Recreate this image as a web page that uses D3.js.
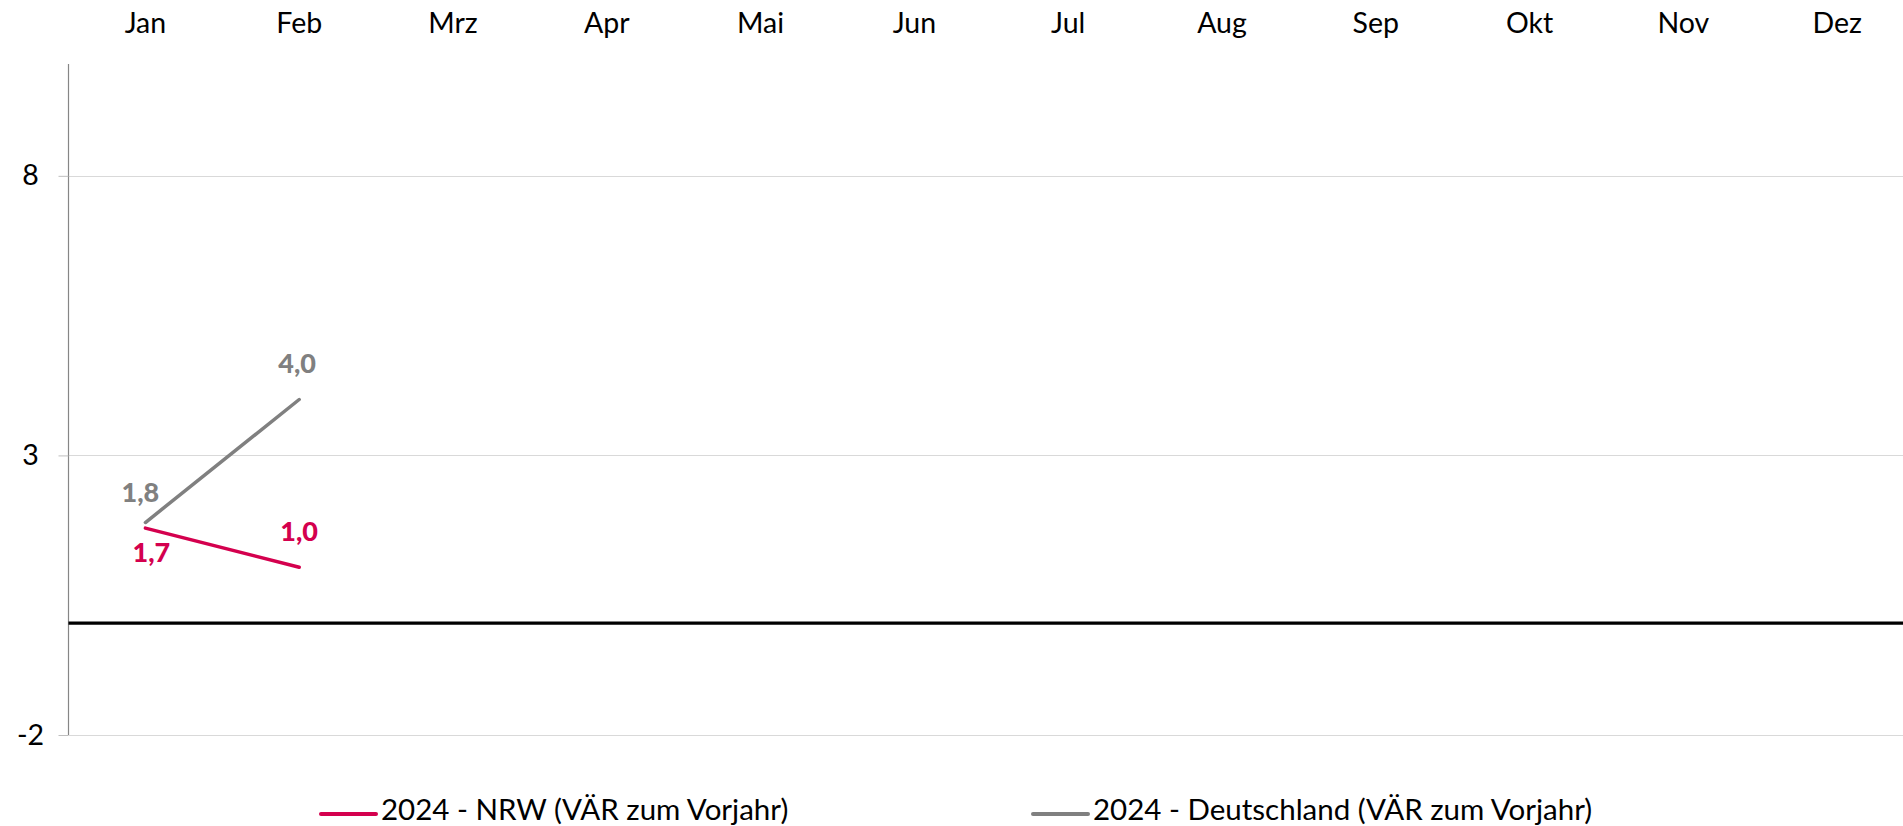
<!DOCTYPE html>
<html><head><meta charset="utf-8">
<script src="https://cdn.jsdelivr.net/npm/d3@7"></script>
<style>
html,body{margin:0;padding:0;background:#fff;overflow:hidden}
text{font-family:Lato, "Open Sans", sans-serif}
</style></head>
<body>
<svg id="chart" width="1903" height="826"></svg>
<script>
const months = ["Jan","Feb","Mrz","Apr","Mai","Jun","Jul","Aug","Sep","Okt","Nov","Dez"];
const nrwValues = [1.7, 1.0];
const deValues = [1.8, 4.0];
const nrwLabels = ["1,7","1,0"];
const deLabels = ["1,8","4,0"];
const yTicks = [-2, 3, 8];
const seriesNames = ["2024 - NRW (VÄR zum Vorjahr)", "2024 - Deutschland (VÄR zum Vorjahr)"];
const colors = {nrw:"#d4004e", de:"#808080"};

const svg = d3.select("#chart");
const left = 68.5, step = 153.8;
const x = d3.scaleBand().domain(months).range([left, left + step*12]).padding(0);
const y = d3.scaleLinear().domain([-2, 10]).range([735, 64]);
const cx = m => x(m) + x.bandwidth()/2;

// gridlines
svg.append("g").selectAll("line").data(yTicks).join("line")
  .attr("x1", left).attr("x2", 1903)
  .attr("y1", d => Math.round(y(d))+0.5).attr("y2", d => Math.round(y(d))+0.5)
  .attr("stroke", "#d9d9d9").attr("stroke-width", 1);

// y axis
const yAxis = d3.axisLeft(y).tickValues(yTicks).tickSize(10).tickPadding(20).tickFormat(d => String(d));
const gy = svg.append("g").attr("transform", `translate(${left},0)`).call(yAxis);
gy.select(".domain").attr("stroke", "#868686").attr("stroke-width", 1.2).attr("d", `M0,${y(10)}V${y(-2)}`);
gy.selectAll(".tick line").attr("stroke", "#bfbfbf");
gy.selectAll(".tick text").attr("font-size", 28.5).attr("fill", "#000").attr("font-family", "Lato").attr("text-anchor","middle").attr("dx", -8);

// top x axis labels
const xAxis = d3.axisTop(x).tickSize(0).tickPadding(0);
const gx = svg.append("g").attr("transform", "translate(0,33)").call(xAxis);
gx.select(".domain").remove();
gx.selectAll(".tick text").attr("font-size", 28.5).attr("fill", "#000").attr("font-family", "Lato");

// zero line
svg.append("line").attr("x1", left).attr("x2", 1903).attr("y1", y(0)).attr("y2", y(0))
  .attr("stroke", "#000").attr("stroke-width", 3.2);

const line = d3.line().x((d,i) => cx(months[i])).y(d => y(d));
svg.append("path").datum(deValues).attr("d", line).attr("fill","none")
  .attr("stroke", colors.de).attr("stroke-width", 3.5).attr("stroke-linecap","round");
svg.append("path").datum(nrwValues).attr("d", line).attr("fill","none")
  .attr("stroke", colors.nrw).attr("stroke-width", 3.5).attr("stroke-linecap","round");

// data labels
const deOff = [[-5,-31],[-2,-37]];
const nrwOff = [[6,23],[0,-37]];
svg.append("g").selectAll("text").data(deValues).join("text")
  .attr("x", (d,i) => cx(months[i]) + deOff[i][0]).attr("y", (d,i) => y(d) + deOff[i][1])
  .attr("text-anchor","middle").attr("dominant-baseline","central")
  .attr("font-size", 27).attr("font-weight","900").attr("fill", colors.de)
  .text((d,i) => deLabels[i]);
svg.append("g").selectAll("text").data(nrwValues).join("text")
  .attr("x", (d,i) => cx(months[i]) + nrwOff[i][0]).attr("y", (d,i) => y(d) + nrwOff[i][1])
  .attr("text-anchor","middle").attr("dominant-baseline","central")
  .attr("font-size", 27).attr("font-weight","900").attr("fill", colors.nrw)
  .text((d,i) => nrwLabels[i]);

// legend
const legendItems = [
  {name: seriesNames[0], color: colors.nrw, x: 321},
  {name: seriesNames[1], color: colors.de, x: 1033}
];
const lg = svg.append("g").selectAll("g").data(legendItems).join("g")
  .attr("transform", d => `translate(${d.x},814)`);
lg.append("line").attr("x1",0).attr("x2",55).attr("y1",0).attr("y2",0)
  .attr("stroke", d => d.color).attr("stroke-width", 4).attr("stroke-linecap","round");
lg.append("text").attr("x", 60).attr("y", 6)
  .attr("font-size", 29.5).attr("fill","#000").text(d => d.name);
</script>
</body></html>
